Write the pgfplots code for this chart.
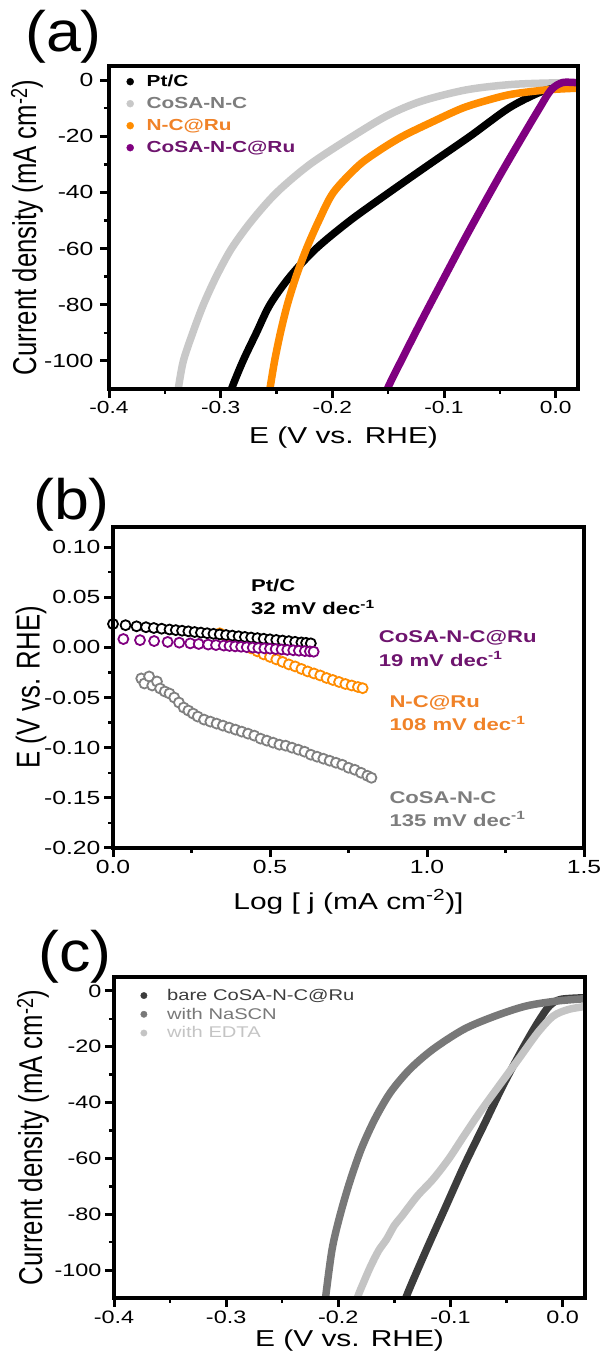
\documentclass[border=0pt]{standalone}
\usepackage{pgfplots}
\pgfplotsset{compat=1.18}
\usepackage{fontspec}
\setmainfont[FakeStretch=1.3]{Liberation Sans}
\newfontfamily\ylabfont[FakeStretch=0.78]{Liberation Sans}
\newfontfamily\letterfont[FakeStretch=1.1]{Liberation Sans}

\definecolor{cosaline}{RGB}{200,200,200}
\definecolor{cosatext}{RGB}{125,125,125}
\definecolor{ncru}{RGB}{255,140,0}
\definecolor{ncrutext}{RGB}{240,130,40}
\definecolor{cosaru}{RGB}{128,0,128}
\definecolor{cosarutext}{RGB}{110,20,110}
\definecolor{gmark}{RGB}{128,128,128}
\definecolor{bare}{RGB}{60,60,60}
\definecolor{nascn}{RGB}{120,120,120}
\definecolor{edta}{RGB}{196,196,196}

\pgfplotsset{
  panel/.style={
    scale only axis,
    axis line style={line width=3pt},
    major tick style={line width=3pt, black},
    minor tick style={line width=2.5pt, black},
    tick align=outside,
    major tick length=9pt,
    minor tick length=5pt,
    xtick pos=left, ytick pos=left,
    /pgf/number format/assume math mode=true,
    /pgf/number format/1000 sep={},
    xlabel style={font=\fontsize{23}{23}\selectfont, anchor=center},
    ylabel style={font=\ylabfont\fontsize{33}{33}\selectfont, anchor=center},
    clip mode=individual,
  },
  lsv/.style={line width=7.5pt, line join=round, line cap=round, smooth, no marks},
  tafel/.style={only marks, mark=*, mark size=5pt, mark options={fill=white, line width=1.8pt}},
}

\begin{document}
\begin{tikzpicture}[x=1pt,y=1pt]
\useasboundingbox (0,0) rectangle (605,1362);

% ---------------- (a) ----------------
\begin{axis}[panel, at={(109pt,973pt)}, anchor=south west, width=469pt, height=323pt,
  xmin=-0.4, xmax=0.02, ymin=-110, ymax=5,
  xtick={-0.4,-0.3,-0.2,-0.1,0}, minor x tick num=1,
  ytick={-100,-80,-60,-40,-20,0}, minor y tick num=1,
  xticklabel style={font=\fontsize{17.5}{17.5}\selectfont, /pgf/number format/.cd, fixed, fixed zerofill, precision=1},
  yticklabel style={font=\fontsize{19}{19}\selectfont, xshift=-3pt},
  xlabel={E (V vs. RHE)},
  ylabel={Current density (mA cm\textsuperscript{-2})},
  xlabel style={at={(axis description cs:0.5,-0.149)}},
  ylabel style={at={(axis description cs:-0.175,0.5)}},
  legend style={draw=none, fill=none, at={(axis description cs:0,1)}, anchor=north west,
    xshift=17.5pt, yshift=-6pt, inner sep=0pt, row sep=3pt,
    font=\fontsize{16}{16}\selectfont\bfseries,
    nodes={text height=12pt, text depth=3pt, inner sep=2pt},
    /tikz/every odd column/.append style={column sep=11pt}},
  legend cell align=left,
]
\addplot[lsv, color=cosaline, forget plot] coordinates {
(-0.3395,-115) (-0.338,-110) (-0.3334,-100) (-0.325,-90) (-0.3155,-80) (-0.304,-70)
(-0.2903,-60) (-0.272,-50) (-0.2497,-40) (-0.22,-30) (-0.1817,-20) (-0.15,-12.5)
(-0.12,-7.5) (-0.08,-3.5) (-0.04,-1.6) (0,-1) (0.02,-1)};
\addplot[lsv, color=black, forget plot] coordinates {
(-0.2935,-115) (-0.2903,-110) (-0.28,-100) (-0.268,-90) (-0.2559,-80) (-0.238,-70)
(-0.2145,-60) (-0.184,-50) (-0.149,-40) (-0.113,-30) (-0.0766,-20) (-0.042,-10)
(-0.015,-4.5) (0,-2.8) (0.02,-1.7)};
\addplot[lsv, color=ncru, forget plot] coordinates {
(-0.2578,-115) (-0.2559,-110) (-0.2517,-100) (-0.2465,-90) (-0.2403,-80) (-0.2325,-70)
(-0.2231,-60) (-0.212,-50) (-0.199,-40) (-0.1766,-30.5) (-0.1576,-25) (-0.1369,-20)
(-0.111,-15) (-0.0834,-10) (-0.0593,-7) (-0.0386,-5) (-0.0076,-3.5) (0.02,-2.9)};
\addplot[lsv, color=cosaru, forget plot] coordinates {
(-0.153,-115) (-0.1507,-110) (-0.1352,-97.5) (-0.1179,-84) (-0.1007,-71) (-0.0834,-58)
(-0.0662,-45.5) (-0.049,-33.3) (-0.0317,-21.5) (-0.0145,-10) (-0.0041,-3.5) (0.0062,-0.9)
(0.02,-1.0)};
\addlegendimage{only marks, mark=*, mark size=3.5pt, color=black}
\addlegendentry{\textcolor{black}{Pt/C}}
\addlegendimage{only marks, mark=*, mark size=3.5pt, color=cosaline}
\addlegendentry{\textcolor{cosatext}{CoSA-N-C}}
\addlegendimage{only marks, mark=*, mark size=3.5pt, color=ncru}
\addlegendentry{\textcolor{ncrutext}{N-C@Ru}}
\addlegendimage{only marks, mark=*, mark size=3.5pt, color=cosaru}
\addlegendentry{\textcolor{cosarutext}{CoSA-N-C@Ru}}
\end{axis}

% ---------------- (b) ----------------
\begin{axis}[panel, at={(113pt,514pt)}, anchor=south west, width=471pt, height=321pt,
  xmin=0, xmax=1.5, ymin=-0.20, ymax=0.12,
  xtick={0,0.5,1,1.5}, minor x tick num=1,
  ytick={-0.20,-0.15,-0.10,-0.05,0,0.05,0.10}, minor y tick num=1,
  scaled ticks=false,
  ticklabel style={font=\fontsize{19}{19}\selectfont},
  xticklabel style={/pgf/number format/.cd, fixed, fixed zerofill, precision=1},
  yticklabel style={/pgf/number format/.cd, fixed, fixed zerofill, precision=2},
  xlabel={Log [ j (mA cm\textsuperscript{-2})]},
  ylabel={E (V vs. RHE)},
  xlabel style={at={(axis description cs:0.5,-0.168)}},
  ylabel style={at={(axis description cs:-0.174,0.5)}},
]
\addplot[tafel, color=gmark] coordinates {
(0.09,-0.031) (0.10,-0.036) (0.115,-0.029) (0.125,-0.038) (0.14,-0.034) (0.15,-0.041)
(0.165,-0.044) (0.18,-0.046) (0.195,-0.050) (0.21,-0.055) (0.225,-0.060) (0.24,-0.063)
(0.255,-0.066) (0.27,-0.069) (0.29,-0.072) (0.31,-0.074) (0.33,-0.076) (0.35,-0.078)
(0.37,-0.080) (0.39,-0.082) (0.41,-0.084) (0.43,-0.086) (0.45,-0.088) (0.47,-0.091)
(0.49,-0.093) (0.51,-0.095) (0.53,-0.097) (0.55,-0.098) (0.57,-0.100) (0.59,-0.102)
(0.61,-0.104) (0.63,-0.107) (0.65,-0.109) (0.67,-0.111) (0.69,-0.113) (0.71,-0.115)
(0.73,-0.117) (0.75,-0.120) (0.77,-0.122) (0.79,-0.125) (0.81,-0.128) (0.823,-0.130)};
\addplot[tafel, color=ncru] coordinates {
(0.34,0.014) (0.36,0.011) (0.38,0.008) (0.40,0.005) (0.42,0.002) (0.44,-0.001)
(0.46,-0.004) (0.48,-0.007) (0.50,-0.0095) (0.52,-0.012) (0.54,-0.0145) (0.56,-0.017)
(0.58,-0.019) (0.60,-0.0215) (0.62,-0.024) (0.64,-0.026) (0.66,-0.028) (0.68,-0.0305)
(0.70,-0.0325) (0.72,-0.0345) (0.74,-0.0365) (0.76,-0.038) (0.78,-0.0395) (0.795,-0.0407)};
\addplot[tafel, color=black] coordinates {
(0.00,0.0233) (0.04,0.0221) (0.075,0.0210) (0.105,0.0201) (0.13,0.0193) (0.155,0.0186)
(0.18,0.0178) (0.20,0.0172) (0.22,0.0166) (0.24,0.0160) (0.26,0.0153) (0.28,0.0147)
(0.30,0.0141) (0.32,0.0135) (0.34,0.0129) (0.36,0.0123) (0.38,0.0117) (0.40,0.0111)
(0.42,0.0104) (0.44,0.0098) (0.46,0.0092) (0.48,0.0086) (0.50,0.0080) (0.52,0.0074)
(0.54,0.0068) (0.56,0.0062) (0.58,0.0055) (0.60,0.0049) (0.615,0.0045) (0.63,0.0040)};
\addplot[tafel, color=cosaru] coordinates {
(0.033,0.0083) (0.086,0.0072) (0.131,0.0063) (0.174,0.0054) (0.211,0.0047) (0.246,0.0040)
(0.273,0.0034) (0.303,0.0028) (0.328,0.0023) (0.353,0.0018) (0.371,0.0014) (0.389,0.0010)
(0.408,0.0006) (0.426,0.0002) (0.445,-0.0002) (0.463,-0.0006) (0.482,-0.0010) (0.50,-0.0013)
(0.518,-0.0017) (0.537,-0.0021) (0.555,-0.0025) (0.574,-0.0029) (0.592,-0.0033) (0.611,-0.0037)
(0.627,-0.0040) (0.639,-0.0043)};
\begin{scope}[every node/.style={inner sep=0pt, anchor=west, font=\fontsize{17}{17}\selectfont\bfseries}]
\node[black] at (axis cs:0.439,0.0617) {Pt/C};
\node[black] at (axis cs:0.439,0.040) {32 mV dec\textsuperscript{-1}};
\node[cosarutext] at (axis cs:0.846,0.0095) {CoSA-N-C@Ru};
\node[cosarutext] at (axis cs:0.846,-0.0117) {19 mV dec\textsuperscript{-1}};
\node[ncrutext] at (axis cs:0.88,-0.055) {N-C@Ru};
\node[ncrutext] at (axis cs:0.88,-0.0757) {108 mV dec\textsuperscript{-1}};
\node[cosatext] at (axis cs:0.88,-0.150) {CoSA-N-C};
\node[cosatext] at (axis cs:0.88,-0.171) {135 mV dec\textsuperscript{-1}};
\end{scope}
\end{axis}

% ---------------- (c) ----------------
\begin{axis}[panel, at={(114pt,64pt)}, anchor=south west, width=471pt, height=321pt,
  xmin=-0.4, xmax=0.02, ymin=-110, ymax=5,
  xtick={-0.4,-0.3,-0.2,-0.1,0}, minor x tick num=1,
  ytick={-100,-80,-60,-40,-20,0}, minor y tick num=1,
  ticklabel style={font=\fontsize{18}{18}\selectfont},
  xticklabel style={/pgf/number format/.cd, fixed, fixed zerofill, precision=1},
  xlabel={E (V vs. RHE)},
  ylabel={Current density (mA cm\textsuperscript{-2})},
  xlabel style={at={(axis description cs:0.5,-0.131)}},
  ylabel style={at={(axis description cs:-0.172,0.5)}},
  legend style={draw=none, fill=none, at={(axis description cs:0,1)}, anchor=north west,
    xshift=26.5pt, yshift=-10pt, inner sep=0pt, row sep=2pt,
    font=\fontsize{15.5}{15.5}\selectfont,
    /tikz/every odd column/.append style={column sep=18pt}},
  legend cell align=left,
]
\addplot[lsv, color=bare, forget plot] coordinates {
(-0.1418,-115) (-0.1398,-110) (-0.1225,-93.7) (-0.1052,-78.2) (-0.0879,-62.7) (-0.0706,-48.4)
(-0.0533,-34) (-0.036,-20.9) (-0.0221,-11.3) (-0.0118,-5.4) (-0.0014,-3) (0.0228,-2.4)};
\addplot[lsv, color=edta, forget plot] coordinates {
(-0.185,-115) (-0.183,-110) (-0.177,-104) (-0.171,-98.5) (-0.164,-93) (-0.157,-89) (-0.150,-84)
(-0.1432,-80.6) (-0.1294,-73.4) (-0.1156,-67.5) (-0.1017,-60.3) (-0.0879,-51.9) (-0.074,-43.6)
(-0.0567,-34) (-0.0394,-24.5) (-0.0221,-14.9) (-0.0083,-9) (0.0055,-6.6) (0.0228,-5.4)};
\addplot[lsv, color=nascn, forget plot] coordinates {
(-0.2125,-115) (-0.2114,-110) (-0.2055,-92.5) (-0.1986,-80.6) (-0.19,-68.7) (-0.1796,-56.7)
(-0.1675,-46) (-0.1536,-36.4) (-0.1363,-28.1) (-0.1156,-20.9) (-0.0879,-13.7) (-0.0602,-9)
(-0.0325,-5.4) (-0.0048,-3.6) (0.0228,-2.7)};
\addlegendimage{only marks, mark=*, mark size=3.2pt, color=bare}
\addlegendentry{\textcolor{bare}{bare CoSA-N-C@Ru}}
\addlegendimage{only marks, mark=*, mark size=3.2pt, color=nascn}
\addlegendentry{\textcolor{nascn}{with NaSCN}}
\addlegendimage{only marks, mark=*, mark size=3.2pt, color=edta}
\addlegendentry{\textcolor{edta}{with EDTA}}
\end{axis}

% frames
\begin{scope}[line width=3.5pt, black]
\draw (109,973) rectangle (578,1296);
\draw (113,514) rectangle (584,835);
\draw (114,64) rectangle (585,385);
\end{scope}

% panel letters
\node[anchor=base west, inner sep=0pt, font=\letterfont\fontsize{57}{57}\selectfont] at (25,1310) {(a)};
\node[anchor=base west, inner sep=0pt, font=\letterfont\fontsize{57}{57}\selectfont] at (33,842) {(b)};
\node[anchor=base west, inner sep=0pt, font=\letterfont\fontsize{57}{57}\selectfont] at (38,390) {(c)};
\end{tikzpicture}
\end{document}
